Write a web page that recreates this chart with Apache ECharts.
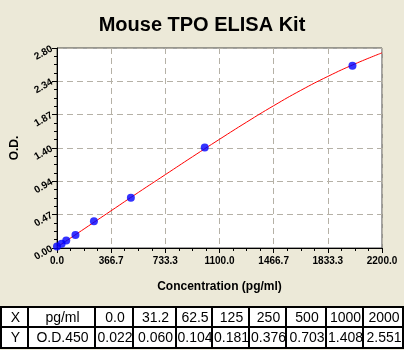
<!DOCTYPE html>
<html>
<head>
<meta charset="utf-8">
<script src="https://cdn.jsdelivr.net/npm/echarts@6/dist/echarts.min.js"></script>
<style>
html,body{margin:0;padding:0;background:#ECE9D8;}
#c{width:404px;height:350px;}
</style>
</head>
<body>
<div id="c"></div>
<script>
// ---- data ----
var concentrations = [0, 31.2, 62.5, 125, 250, 500, 1000, 2000];
var odValues = [0.022, 0.060, 0.104, 0.181, 0.376, 0.703, 1.408, 2.551];
// fitted curve
var curveX = [0, 183.3, 366.7, 550, 733.3, 916.7, 1100, 1283.3, 1466.7, 1650, 1833.3, 2016.7, 2200];
var curveY = [0.012, 0.267, 0.522, 0.777, 1.027, 1.277, 1.522, 1.762, 1.992, 2.207, 2.402, 2.577, 2.732];
var xTickLabels = ['0.0', '366.7', '733.3', '1100.0', '1466.7', '1833.3', '2200.0'];
var yTickLabels = ['0.00', '0.47', '0.94', '1.40', '1.87', '2.34', '2.80'];
var tableRowX = ['X', 'pg/ml'];
var tableRowY = ['Y', 'O.D.450'];

// ---- layout ----
var FONT = '"Liberation Sans", Arial, sans-serif';
var colEdges = [1, 28, 95, 133, 176, 212, 249, 286, 326, 363, 403];
var rowEdges = [307, 327, 348];

var chart = echarts.init(document.getElementById('c'));

var points = concentrations.map(function (c, i) { return [c, odValues[i]]; });
var curve = curveX.map(function (x, i) { return [x, curveY[i]]; });

var row1 = tableRowX.concat(concentrations.map(function (c) { return c === 0 ? '0.0' : String(c); }));
var row2 = tableRowY.concat(odValues.map(function (v) { return v.toFixed(3); }));

var graphics = [];
graphics.push({
  type: 'rect',
  shape: { x: colEdges[0], y: rowEdges[0], width: colEdges[colEdges.length - 1] - colEdges[0], height: rowEdges[2] - rowEdges[0] },
  style: { fill: '#ffffff', stroke: '#000', lineWidth: 2 },
  z: 10
});
graphics.push({
  type: 'line',
  shape: { x1: colEdges[0], y1: rowEdges[1], x2: colEdges[colEdges.length - 1], y2: rowEdges[1] },
  style: { stroke: '#000', lineWidth: 2 },
  z: 11
});
for (var k = 1; k < colEdges.length - 1; k++) {
  graphics.push({
    type: 'line',
    shape: { x1: colEdges[k], y1: rowEdges[0], x2: colEdges[k], y2: rowEdges[2] },
    style: { stroke: '#000', lineWidth: 2 },
    z: 11
  });
}
[row1, row2].forEach(function (row, r) {
  row.forEach(function (txt, j) {
    graphics.push({
      type: 'text',
      x: (colEdges[j] + colEdges[j + 1]) / 2 + 1,
      y: (rowEdges[r] + rowEdges[r + 1]) / 2 + 1,
      style: { text: txt, fill: '#000', font: '14px ' + FONT, align: 'center', verticalAlign: 'middle' },
      z: 12
    });
  });
});

var option = {
  backgroundColor: '#ECE9D8',
  animation: false,
  title: {
    text: 'Mouse TPO ELISA Kit',
    left: 'center',
    top: 10,
    textStyle: { fontFamily: FONT, fontSize: 20, fontWeight: 'bold', color: '#000' }
  },
  grid: {
    left: 57, right: 22, top: 48, bottom: 102,
    show: true, backgroundColor: '#ffffff', borderColor: '#444', borderWidth: 1
  },
  xAxis: {
    type: 'value',
    min: 0, max: 2200, interval: 2200 / 6,
    name: 'Concentration (pg/ml)',
    nameLocation: 'middle',
    nameGap: 33,
    nameTextStyle: { fontFamily: FONT, fontSize: 12, fontWeight: 'bold', color: '#000' },
    axisLine: { show: true, lineStyle: { color: '#000', width: 1 } },
    axisTick: { show: true, length: 5, lineStyle: { color: '#000' } },
    minorTick: { show: true, splitNumber: 4, length: 3, lineStyle: { color: '#000' } },
    axisLabel: {
      margin: 8,
      fontFamily: FONT, fontSize: 10, fontWeight: 'bold', color: '#000',
      formatter: function (v) { return xTickLabels[Math.round(v / (2200 / 6))]; }
    },
    splitLine: { show: true, lineStyle: { color: '#b5b1a6', type: [6, 4], width: 1 } }
  },
  yAxis: {
    type: 'value',
    min: 0, max: 2.8, interval: 2.8 / 6,
    name: 'O.D.',
    nameLocation: 'middle',
    nameGap: 36,
    nameTextStyle: { fontFamily: FONT, fontSize: 12, fontWeight: 'bold', color: '#000' },
    axisLine: { show: true, lineStyle: { color: '#000', width: 1 } },
    axisTick: { show: true, length: 5, lineStyle: { color: '#000' } },
    minorTick: { show: true, splitNumber: 4, length: 3, lineStyle: { color: '#000' } },
    axisLabel: {
      margin: 5, rotate: 30,
      fontFamily: FONT, fontSize: 10, fontWeight: 'bold', color: '#000',
      formatter: function (v) { return yTickLabels[Math.round(v / (2.8 / 6))]; }
    },
    splitLine: { show: true, lineStyle: { color: '#b5b1a6', type: [6, 4], width: 1 } }
  },
  series: [
    {
      type: 'line',
      data: curve,
      smooth: true,
      symbol: 'none',
      lineStyle: { color: '#ff0000', width: 1 },
      z: 3
    },
    {
      type: 'scatter',
      data: points,
      symbol: 'circle',
      symbolSize: 8,
      itemStyle: { color: '#0000ff' },
      z: 4
    }
  ],
  graphic: graphics
};
chart.setOption(option);
</script>
</body>
</html>
